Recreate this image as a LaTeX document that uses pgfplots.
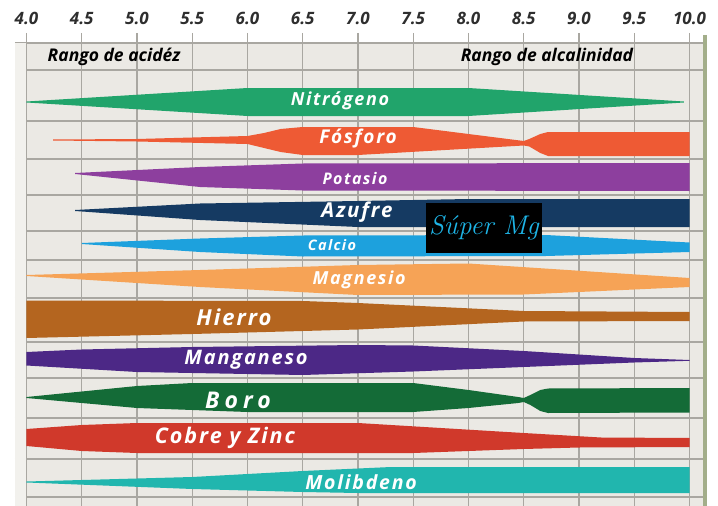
\documentclass[border=0pt]{standalone}
\usepackage{pgfplots}
\pgfplotsset{compat=1.18}
\usepackage{fontspec}
\setmainfont{Open Sans}
\newfontfamily\bandfont[LetterSpace=9]{Open Sans}
\newfontfamily\lmfont{Latin Modern Roman}
\definecolor{bg}{HTML}{EBE9E4}
\definecolor{bgl}{HTML}{F2F1ED}
\definecolor{gridc}{HTML}{A9A7A1}
\definecolor{edge}{HTML}{A3AE8A}
\definecolor{cN}{HTML}{21A46B}
\definecolor{cP}{HTML}{EE5A34}
\definecolor{cK}{HTML}{8D3F9E}
\definecolor{cS}{HTML}{153A62}
\definecolor{cCa}{HTML}{1DA1DD}
\definecolor{cMg}{HTML}{F6A356}
\definecolor{cFe}{HTML}{B4651F}
\definecolor{cMn}{HTML}{4C2886}
\definecolor{cB}{HTML}{146B37}
\definecolor{cCu}{HTML}{D0392B}
\definecolor{cMo}{HTML}{21B6AE}
\definecolor{cyanMg}{HTML}{1EB4E6}
\newcommand{\lab}[2]{{\fontsize{#1}{#1}\selectfont\bandfont\bfseries\itshape #2}}
\begin{document}
\begin{tikzpicture}
\useasboundingbox (0,0) rectangle (718pt,506pt);
\begin{axis}[
  at={(15pt,0pt)}, anchor=south west, scale only axis,
  width=688pt, height=463pt,
  xmin=3.89593, xmax=10.12217, ymin=43, ymax=506, y dir=reverse,
  clip=false,
  axis background/.style={fill=bg},
  axis line style={draw=none},
  xtick={4,4.5,...,10},
  xticklabels={4.0,4.5,5.0,5.5,6.0,6.5,7.0,7.5,8.0,8.5,9.0,9.5,10.0},
  xtick pos=upper, xticklabel pos=upper,
  tick align=outside, major tick length=10pt,
  xtick style={color=gridc, line width=1.1pt},
  xticklabel style={font=\fontsize{17}{17}\selectfont\bfseries\itshape, text=black!82, yshift=5pt},
  ytick={43,70,121,159,195,231,260,298,342,378,418,459,497},
  yticklabels={},
  ytick style={draw=none},
  grid=major,
  major grid style={color=gridc, line width=1.1pt},
]
% left light strip
\addplot[fill=bgl, draw=none] coordinates {(3.896,43)(3.995,43)(3.995,506)(3.896,506)};
% right border
\addplot[draw=edge, line width=3.5pt] coordinates {(10.14,35)(10.14,506)};
% Nitrogeno
\addplot[fill=cN, draw=none] coordinates {(4.0,101.5)(6.0,88)(8.0,88)(9.95,101.5)(9.95,102.5)(8.0,116)(6.0,116)(4.0,102.5)};
% Fosforo
\addplot[fill=cP, draw=none] coordinates {(4.24,139.5)(5.0,139)(6.0,136)(6.15,133)(6.3,129)(6.5,127)(7.5,127)(8.5,141)(8.55,139)(8.65,134)(8.72,132)(10.0,132)
 (10.0,156)(8.72,156)(8.65,153)(8.55,146.5)(8.5,145.5)(7.0,155)(6.5,155)(6.3,152)(6.15,148)(6.0,144)(5.0,141.5)(4.24,140.5)};
% Potasio
\addplot[fill=cK, draw=none] coordinates {(4.44,173)(5.57,167)(6.5,163.5)(10.0,163)(10.0,191)(6.5,190.5)(5.57,187)(4.44,174)};
% Azufre
\addplot[fill=cS, draw=none] coordinates {(4.44,210)(5.57,203.5)(7.0,201)(8.0,199)(10,199)(10,227)(7.0,227)(5.57,220)(4.44,211)};
% Calcio
\addplot[fill=cCa, draw=none] coordinates {(4.5,243)(5.57,238.5)(6.5,235.5)(8.7,235)(10,242.5)(10,252)(8.7,256)(6.5,256.5)(5.57,252)(4.5,244)};
% Magnesio
\addplot[fill=cMg, draw=none] coordinates {(4.0,275)(5.57,270)(7.0,265)(8.0,263.5)(10,278)(10,287)(8.5,294.5)(7.0,295)(5.57,287)(4.0,276)};
% Hierro
\addplot[fill=cFe, draw=none] coordinates {(4.0,300.5)(6.5,301)(7.0,303)(8.5,311)(10,312)(10,321)(8.5,321.5)(7.0,329.5)(5.5,334)(4.0,338)};
% Manganeso
\addplot[fill=cMn, draw=none] coordinates {(4.0,352)(4.5,349.5)(5.5,347)(7.0,345)(7.5,345.5)(8.5,351)(9.5,358)(10.0,360)(10.0,360.8)(9.5,362.5)(8.5,367)(7.5,371.5)(6.5,375)(5.0,372)(4.0,365.5)};
% Boro
\addplot[fill=cB, draw=none] coordinates {(4.0,397)(5.0,386)(5.5,383)(7.5,383)(8.0,390)(8.45,397)(8.5,398)(8.56,395)(8.65,390)(8.72,388.5)(10,388)
 (10,412.5)(8.72,413)(8.65,411)(8.56,405)(8.5,402)(8.45,403)(8.0,408)(7.5,412)(6.0,412)(5.0,408)(4.0,398)};
% Cobre y Zinc
\addplot[fill=cCu, draw=none] coordinates {(4.0,429)(4.5,425)(5.0,423)(7.0,423)(8.5,433)(9.2,437.5)(10,438)(10,447)(9.0,447.5)(8.5,449)(7.5,453)(5.0,453)(4.5,451)(4.0,446)};
% Molibdeno
\addplot[fill=cMo, draw=none] coordinates {(4.0,481.5)(5.5,477)(6.5,471)(7.3,467)(10,467)(10,493)(7.0,493)(6.5,492)(5.5,489)(4.0,482.5)};
% labels
\node[text=white] at (axis cs:6.837,101) {\lab{18}{Nitrógeno}};
\node[text=white] at (axis cs:7.0,139) {\lab{19}{Fósforo}};
\node[text=white] at (axis cs:6.973,178) {\lab{16}{Potasio}};
\node[text=white] at (axis cs:6.99,212) {\lab{20.5}{Azufre}};
\node[text=white] at (axis cs:6.765,245) {\lab{14.5}{Calcio}};
\node[text=white] at (axis cs:7.01,280) {\lab{18}{Magnesio}};
\node[text=white] at (axis cs:5.878,317) {\lab{22}{Hierro}};
\node[text=white] at (axis cs:5.986,360) {\lab{20}{Manganeso}};
\node[text=white] at (axis cs:5.914,400) {{\fontsize{23}{23}\selectfont\addfontfeatures{LetterSpace=22}\bfseries\itshape Boro}};
\node[text=white] at (axis cs:5.796,438) {\lab{21.5}{Cobre y Zinc}};
\node[text=white] at (axis cs:7.027,482) {\lab{19.5}{Molibdeno}};
\node[text=black] at (axis cs:4.792,57) {{\fontsize{17.5}{17.5}\selectfont\bfseries\itshape Rango de acidéz}};
\node[text=black] at (axis cs:8.71,57) {{\fontsize{17.5}{17.5}\selectfont\bfseries\itshape Rango de alcalinidad}};
\node[fill=black, minimum width=116pt, minimum height=50pt, inner sep=0pt, text=cyanMg] at (axis cs:8.14,228) {{\lmfont\itshape\fontsize{27}{27}\selectfont Súper Mg}};
\end{axis}
\end{tikzpicture}
\end{document}
